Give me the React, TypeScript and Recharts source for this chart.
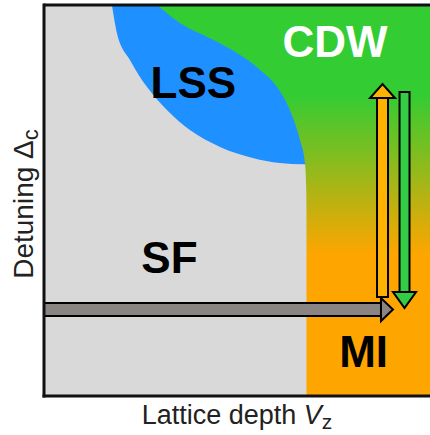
import React from 'react';
import {
  ComposedChart,
  Area,
  Line,
  Scatter,
  XAxis,
  YAxis,
  ReferenceArea,
  ReferenceLine,
  Label,
} from 'recharts';

// ---------- data (lattice depth on x, detuning on y, arbitrary units 0..10) ----------
const X_MAX = 10;
const Y_MAX = 10;

// lower/left edge of the LSS (blue) region
const lssBoundary = [
  { x: 1.76, y: 10 },
  { x: 1.89, y: 9.28 },
  { x: 2.23, y: 8.59 },
  { x: 2.67, y: 7.9 },
  { x: 3.19, y: 7.31 },
  { x: 3.78, y: 6.8 },
  { x: 4.56, y: 6.37 },
  { x: 5.41, y: 6.09 },
  { x: 6.11, y: 5.96 },
  { x: 6.71, y: 5.93 },
  { x: 6.85, y: 5.93 },
];

// edge of the CDW / MI region (green to orange)
const cdwMiBoundary = [
  { x: 2.93, y: 10 },
  { x: 3.52, y: 9.54 },
  { x: 4.38, y: 9.11 },
  { x: 5.08, y: 8.72 },
  { x: 5.6, y: 8.34 },
  { x: 6.04, y: 7.9 },
  { x: 6.37, y: 7.31 },
  { x: 6.63, y: 6.55 },
  { x: 6.76, y: 5.96 },
  { x: 6.79, y: 5.4 },
  { x: 6.8, y: 4.76 },
  { x: 6.81, y: 0 },
  { x: 10, y: 0 },
];

// arrows: [tail, head base]
const sweepArrow = [
  { x: 0, y: 2.21 },
  { x: 8.73, y: 2.21 },
];
const upArrow = [
  { x: 8.77, y: 2.67 },
  { x: 8.77, y: 7.62 },
];
const downArrow = [
  { x: 9.34, y: 7.65 },
  { x: 9.34, y: 2.66 },
];

// phase labels
const phaseNames = ['CDW', 'LSS', 'SF', 'MI'];
const phaseX = [7.54, 3.87, 3.25, 8.28];
const phaseY = [8.67, 7.62, 3.15, 0.74];
const phaseLabels = phaseNames.map((name, i) => ({ name, x: phaseX[i], y: phaseY[i] }));

// ---------- styles ----------
const FONT = '"Liberation Sans", Arial, Helvetica, sans-serif';
const phaseColor: Record<string, string> = { CDW: '#ffffff', LSS: '#000000', SF: '#000000', MI: '#000000' };

const makeHead = (dir: string, fill: string, half: number, len: number) => (props: any) => {
  const { cx, cy, index } = props;
  if (index !== 1 || cx == null || cy == null) return <g key={`n-${dir}-${index}`} />;
  let pts = '';
  if (dir === 'up') pts = `${cx - half},${cy} ${cx + half},${cy} ${cx},${cy - len}`;
  else if (dir === 'down') pts = `${cx - half},${cy} ${cx + half},${cy} ${cx},${cy + len}`;
  else pts = `${cx},${cy - half} ${cx},${cy + half} ${cx + len},${cy}`;
  return (
    <polygon
      key={`h-${dir}`}
      points={pts}
      fill={fill}
      stroke="#000"
      strokeWidth={2}
      strokeLinejoin="miter"
    />
  );
};

const arrowLines = (
  id: string,
  data: any[],
  fill: string,
  dir: string,
  outer: number,
  inner: number,
  half: number,
  len: number,
  cap: 'square' | 'butt'
) => [
  <Line
    key={`${id}-o`}
    data={data}
    dataKey="y"
    type="linear"
    stroke="#000"
    strokeWidth={outer}
    strokeLinecap={cap}
    dot={false}
    activeDot={false}
    isAnimationActive={false}
  />,
  <Line
    key={`${id}-i`}
    data={data}
    dataKey="y"
    type="linear"
    stroke={fill}
    strokeWidth={inner}
    strokeLinecap={cap}
    dot={makeHead(dir, fill, half, len)}
    activeDot={false}
    isAnimationActive={false}
  />,
];

const renderPhaseLabel = (props: any) => {
  const { cx, cy, payload } = props;
  return (
    <text
      x={cx}
      y={cy}
      textAnchor="middle"
      fontFamily={FONT}
      fontWeight="bold"
      fontSize={44}
      fill={phaseColor[payload.name]}
    >
      {payload.name}
    </text>
  );
};

const XTitle = (props: any) => {
  const vb = props.viewBox || {};
  const cx = (vb.x ?? 44) + (vb.width ?? 386) / 2;
  return (
    <text x={cx} y={424} textAnchor="middle" fontFamily={FONT} fontSize={27} fill="#222">
      Lattice depth{' '}
      <tspan fontStyle="italic">V</tspan>
      <tspan fontSize={21} dy={5}>z</tspan>
    </text>
  );
};

const YTitle = () => {
  const x = 33;
  const y = 204;
  return (
    <text
      x={x}
      y={y}
      transform={`rotate(-90, ${x}, ${y})`}
      textAnchor="middle"
      fontFamily={FONT}
      fontSize={28}
      fill="#222"
    >
      Detuning Δ
      <tspan fontSize={22} dy={5}>c</tspan>
    </text>
  );
};

export default function App() {
  return (
    <div style={{ position: 'absolute', left: 0, top: 0, width: 430, height: 435, overflow: 'hidden', background: '#fff' }}>
      <ComposedChart width={430} height={435} margin={{ top: 5, right: 0, bottom: 0, left: 0 }}>
        <defs>
          <linearGradient id="cdwMi" x1="0" y1="0" x2="0" y2="1">
            <stop offset="0.23" stopColor="#33cc33" />
            <stop offset="0.64" stopColor="#ffa500" />
          </linearGradient>
        </defs>
        <XAxis
          type="number"
          dataKey="x"
          domain={[0, X_MAX]}
          allowDataOverflow
          tick={false}
          tickLine={false}
          height={39}
          axisLine={{ stroke: '#111', strokeWidth: 3, strokeLinecap: 'square' } as any}
        >
          <Label content={<XTitle />} />
        </XAxis>
        <YAxis
          type="number"
          dataKey="y"
          domain={[0, Y_MAX]}
          allowDataOverflow
          tick={false}
          tickLine={false}
          width={44}
          axisLine={{ stroke: '#111', strokeWidth: 3, strokeLinecap: 'square' } as any}
        >
          <Label content={<YTitle />} />
        </YAxis>
        <ReferenceArea x1={0} x2={X_MAX} y1={0} y2={Y_MAX} fill="#d9d9d9" fillOpacity={1} stroke="none" />
        <Area
          data={lssBoundary}
          dataKey={(d: any) => [d.y, Y_MAX]}
          type="monotone"
          fill="#1e90ff"
          fillOpacity={1}
          stroke="none"
          dot={false}
          activeDot={false}
          isAnimationActive={false}
        />
        <Area
          data={cdwMiBoundary}
          dataKey={(d: any) => [d.y, Y_MAX]}
          type="monotone"
          fill="url(#cdwMi)"
          fillOpacity={1}
          stroke="none"
          dot={false}
          activeDot={false}
          isAnimationActive={false}
        />
        {arrowLines('sweep', sweepArrow, '#8a8582', 'right', 15, 11, 11.5, 12, 'butt')}
        {arrowLines('up', upArrow, '#ffb300', 'up', 13, 9, 12.5, 14, 'square')}
        {arrowLines('down', downArrow, '#33cc44', 'down', 12, 8, 11.5, 16, 'square')}
        <Scatter data={phaseLabels} dataKey="y" shape={renderPhaseLabel} isAnimationActive={false} />
        <ReferenceLine y={Y_MAX} stroke="#111" strokeWidth={3} />
      </ComposedChart>
    </div>
  );
}
